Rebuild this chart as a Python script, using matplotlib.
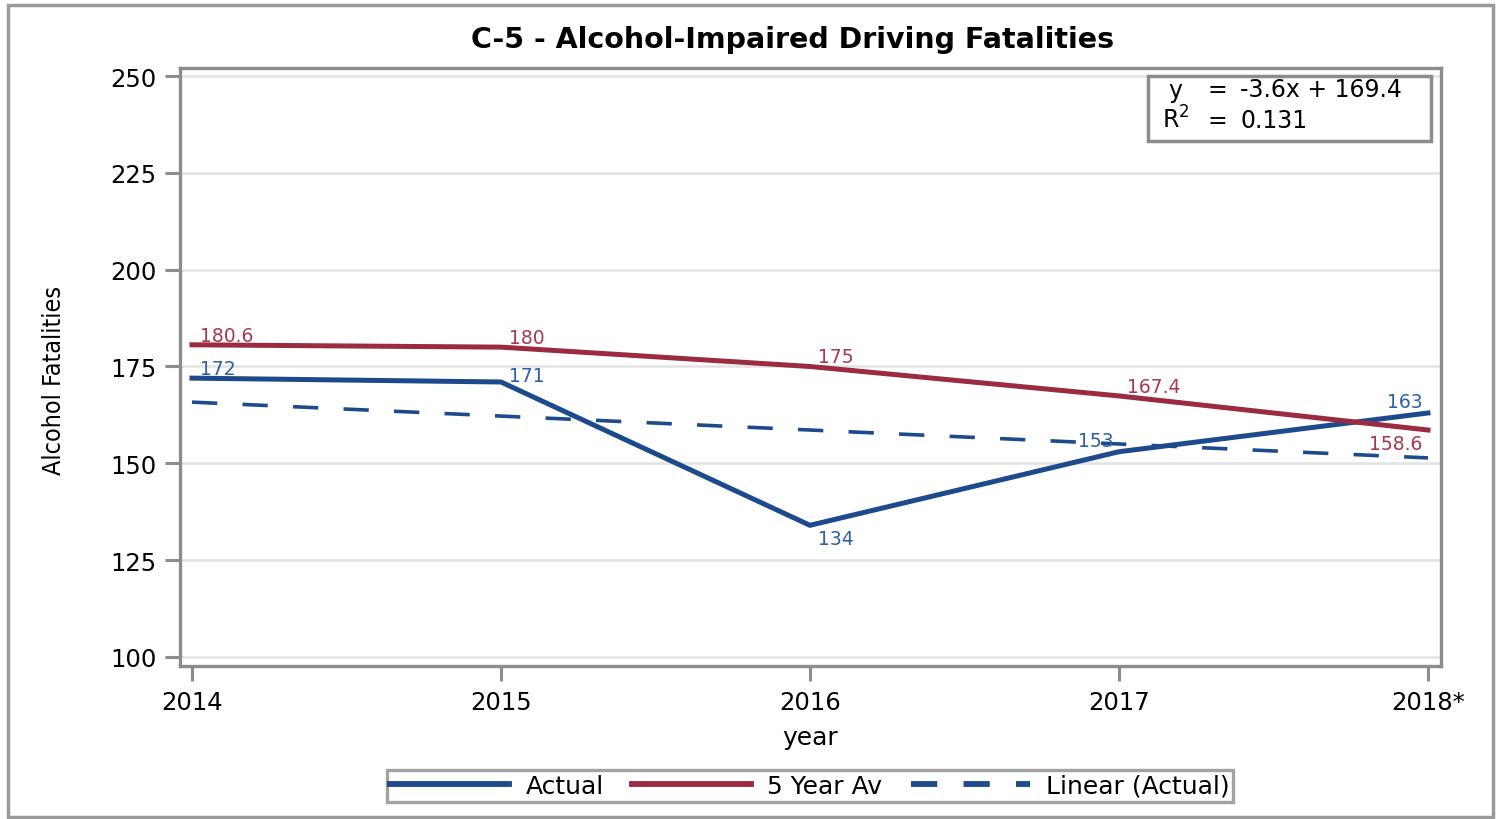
import numpy as np
import matplotlib
matplotlib.use("Agg")
import matplotlib.pyplot as plt
from matplotlib.patches import Rectangle
from matplotlib.lines import Line2D

years = ["2014", "2015", "2016", "2017", "2018*"]
actual = [172, 171, 134, 153, 163]
five_year_avg = [180.6, 180, 175, 167.4, 158.6]
y_ticks = [100, 125, 150, 175, 200, 225, 250]

x = np.arange(len(years))
xi = np.arange(1, len(actual) + 1)
coef = np.polyfit(xi, actual, 1)
trend = np.polyval(coef, xi)
ss_res = np.sum((np.array(actual) - trend) ** 2)
ss_tot = np.sum((np.array(actual) - np.mean(actual)) ** 2)
r2 = 1 - ss_res / ss_tot

BLUE = "#1c4a8c"
RED = "#9b2b40"
BLUE_T = "#2f5ea6"
RED_T = "#a8384e"
GRAY = "#8c8c8c"

fig = plt.figure(figsize=(14.99, 8.2), dpi=100)
W, H = 1499, 820
ax = fig.add_axes([180 / W, 1 - 667 / H, (1441 - 180) / W, (667 - 69) / H])

ax.set_xlim(-12 / 309, 4 + 13 / 309)
ax.set_ylim(100 - 9 / 3.873, 250 + 8 / 3.873)

for t in y_ticks:
    ax.axhline(t, color="#e3e3e3", lw=1.8, zorder=0)

ax.plot(x, trend, color=BLUE, lw=2.6, dashes=(7, 7), zorder=2)
ax.plot(x, actual, color=BLUE, lw=3.6, zorder=3, solid_joinstyle="miter")
ax.plot(x, five_year_avg, color=RED, lw=3.6, zorder=3, solid_joinstyle="miter")

LBL = 13.5
act_off = [(6, 3, "left", "baseline"), (6, 1, "left", "baseline"), (6, -3, "left", "top"),
           (-4, 4, "right", "baseline"), (-4, 4, "right", "baseline")]
avg_off = [(6, 3, "left", "baseline"), (6, 3, "left", "baseline"), (6, 3, "left", "baseline"),
           (6, 3, "left", "baseline"), (-4, -3, "right", "top")]
for i, v in enumerate(actual):
    dx, dy, ha, va = act_off[i]
    ax.annotate(f"{v:g}", (x[i], v), xytext=(dx, dy), textcoords="offset points",
                ha=ha, va=va, color=BLUE_T, fontsize=LBL, zorder=4)
for i, v in enumerate(five_year_avg):
    dx, dy, ha, va = avg_off[i]
    ax.annotate(f"{v:g}", (x[i], v), xytext=(dx, dy), textcoords="offset points",
                ha=ha, va=va, color=RED_T, fontsize=LBL, zorder=4)

ax.set_xticks(x)
ax.set_xticklabels(years, fontsize=17.5)
ax.set_yticks(y_ticks)
ax.set_yticklabels([str(t) for t in y_ticks], fontsize=17.5)
ax.tick_params(axis="both", direction="out", length=11, width=2.2, color=GRAY, pad=6)
for s in ax.spines.values():
    s.set_color(GRAY)
    s.set_linewidth(2.4)

ax.set_xlabel("year", fontsize=18, labelpad=8)
fig.text(54 / W, 1 - 380 / H, "Alcohol Fatalities", rotation=90, ha="center", va="center",
         fontsize=18, fontstretch="condensed", family="DejaVu Sans")

fig.text(793 / W, 1 - 40 / H, "C-5 - Alcohol-Impaired Driving Fatalities",
         ha="center", va="center", fontsize=20.5, fontweight="bold")

# regression stats box
fig.patches.append(Rectangle((1148 / W, 1 - 142 / H), (1431 - 1148) / W, (142 - 77) / H,
                             transform=fig.transFigure, fill=True, facecolor="white",
                             edgecolor=GRAY, lw=2.5, zorder=5))
slope, intercept = coef
FS = 17
fig.text(1175 / W, 1 - 91 / H, "y", ha="center", va="center", fontsize=FS, zorder=6)
fig.text(1217 / W, 1 - 90 / H, "=", ha="center", va="center", fontsize=FS, zorder=6)
fig.text(1240 / W, 1 - 90 / H, f"{slope:.1f}x + {intercept:.1f}", ha="left", va="center",
         fontsize=FS, zorder=6)
fig.text(1176 / W, 1 - 120 / H, "R$^2$", ha="center", va="center", fontsize=FS, zorder=6)
fig.text(1217 / W, 1 - 121 / H, "=", ha="center", va="center", fontsize=FS, zorder=6)
fig.text(1240 / W, 1 - 121 / H, f"{r2:.3f}", ha="left", va="center", fontsize=FS, zorder=6)

handles = [Line2D([], [], color=BLUE, lw=4.2),
           Line2D([], [], color=RED, lw=4.2),
           Line2D([], [], color=BLUE, lw=4.2, dashes=(4.5, 4.5))]
leg = fig.legend(handles, ["Actual", "5 Year Av", "Linear (Actual)"], loc="center",
                 bbox_to_anchor=(810 / W, 1 - 787 / H), ncol=3, fontsize=18,
                 handlelength=4.75, handletextpad=0.65, columnspacing=1.15, frameon=True,
                 fancybox=False, borderpad=0.15, borderaxespad=0)
leg.get_frame().set_edgecolor(GRAY)
leg.get_frame().set_linewidth(2.4)

# outer border
fig.patches.append(Rectangle((8 / W, 1 - 818 / H), (1493 - 8) / W, (818 - 6) / H,
                             transform=fig.transFigure, fill=False, edgecolor="#9a9a9a", lw=2.5))

fig.savefig("out.png", dpi=100)
